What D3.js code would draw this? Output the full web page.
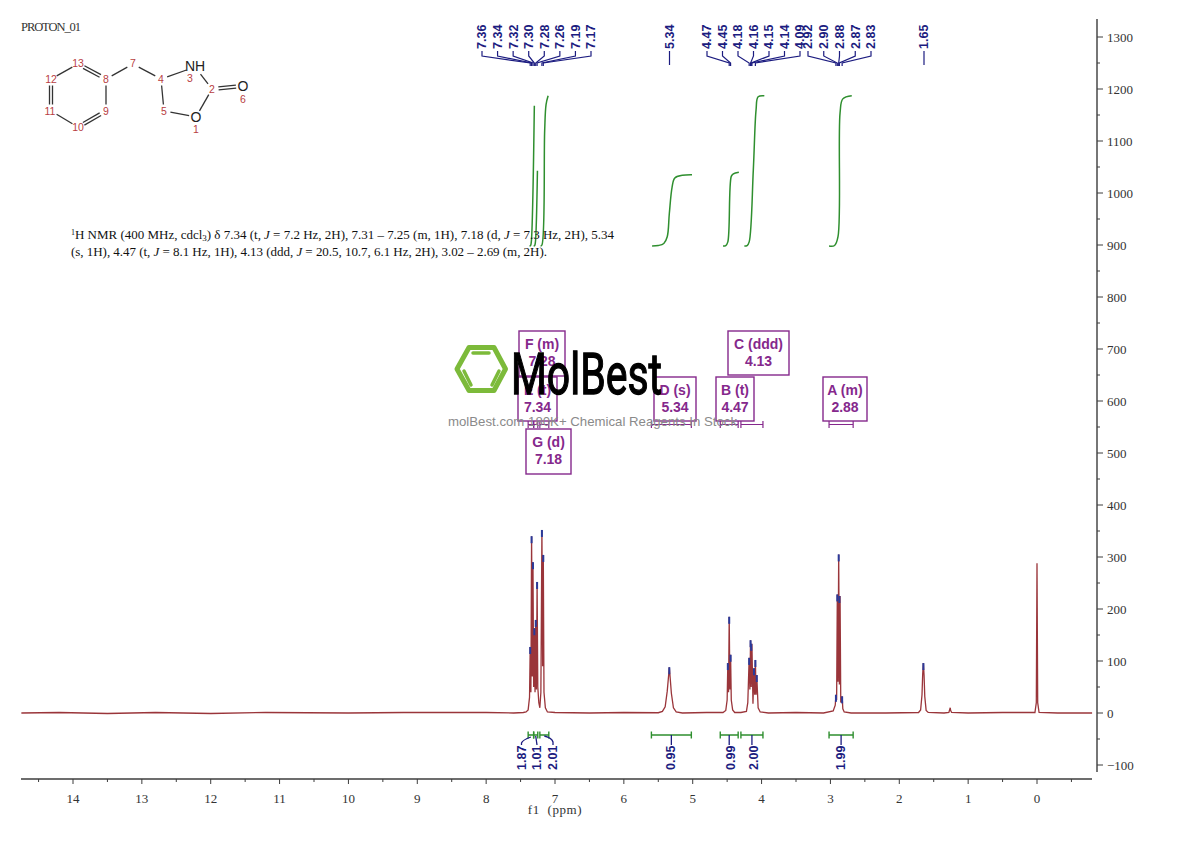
<!DOCTYPE html>
<html><head><meta charset="utf-8"><script src="https://cdn.jsdelivr.net/npm/d3@7"></script>
<style>html,body{margin:0;background:#fff}svg{display:block}</style></head><body><svg id="c" width="1190" height="841"></svg>
<script>
const spectrumPpm=[14.75,14.2,13.5,12.8,12,11.2,10,9.2,8,7.6,7.46,7.42,7.39,7.37,7.36,7.35,7.34,7.33,7.32,7.31,7.30,7.29,7.28,7.27,7.26,7.25,7.235,7.22,7.205,7.19,7.18,7.17,7.16,7.14,7.11,7.0,6.5,6,5.5,5.44,5.40,5.37,5.35,5.34,5.33,5.31,5.28,5.24,5.15,4.8,4.56,4.52,4.50,4.49,4.48,4.47,4.46,4.45,4.44,4.42,4.39,4.3,4.22,4.20,4.18,4.17,4.16,4.15,4.14,4.125,4.11,4.10,4.09,4.08,4.07,4.05,4.02,3.9,3.5,3.1,2.96,2.93,2.92,2.91,2.90,2.89,2.88,2.87,2.86,2.85,2.83,2.82,2.80,2.7,2.2,1.72,1.69,1.67,1.66,1.65,1.64,1.63,1.61,1.58,1.35,1.28,1.26,1.255,1.24,1.0,0.5,0.03,0.01,0,-0.01,-0.03,-0.3,-0.8];
const spectrumIntensity=[0,1,-1,1,-1,1,0,1,1,0,1,2,6,30,127,40,340,70,290,50,163,40,179,45,252,50,20,10,40,352,90,304,40,10,2,1,0,1,0.5,3,12,42,72,88,72,38,10,2,0,1,1,5,25,96,40,185,45,112,25,6,1,1,3,20,106,45,140,50,133,18,86,35,102,35,73,10,2,0,1,0,4,15,35,25,228,60,305,55,225,20,32,8,2,0,0,1,6,35,75,96,72,32,5,1,0,1,10,5,1,0,1,1,20,288,20,1,0,0];
const peakPpm=[7.36,7.34,7.32,7.30,7.28,7.26,7.19,7.17,5.34,4.49,4.47,4.45,4.18,4.16,4.15,4.11,4.09,4.07,2.92,2.90,2.88,2.87,2.83,1.65];
const peakHeight=[127,340,290,163,179,252,352,304,88,96,185,112,106,140,133,86,102,73,35,228,305,225,32,96];
const labelsGroupA=["7.36","7.34","7.32","7.30","7.28","7.26","7.19","7.17"];
const labelsGroupB=["4.47","4.45","4.18","4.16","4.15","4.14","4.09"];
const labelsGroupC=["2.92","2.90","2.88","2.87","2.83"];
const singleLabels=["5.34","1.65"];
const integralRanges=[[7.39,7.31],[7.31,7.25],[7.22,7.09],[5.60,5.02],[4.60,4.34],[4.30,3.98],[3.02,2.67]];
const integralValues=["1.87","1.01","2.01","0.95","0.99","2.00","1.99"];
const curvePpm=[[7.37,7.355,7.345,7.30],[7.31,7.295,7.285,7.255],[7.21,7.19,7.15,7.13,7.10],[5.59,5.50,5.42,5.37,5.34,5.30,5.26,5.15,5.01],[4.56,4.52,4.49,4.44,4.41,4.33],[4.25,4.21,4.18,4.12,4.08,4.05,3.96],[3.02,2.94,2.89,2.86,2.82,2.69]];
const curveValues=[[898,899,905,1168],[898,899,905,1043],[898,900,1120,1170,1187],[898,899,903,916,960,1011,1029,1034,1035],[898,899,906,1032,1037,1040],[898,899,906,1044,1160,1185,1187],[898,899,916,1154,1181,1187]];
const boxLetters=["F (m)","E (t)","G (d)","D (s)","B (t)","C (ddd)","A (m)"];
const boxShifts=["7.28","7.34","7.18","5.34","4.47","4.13","2.88"];
const yTicks=d3.range(-100,1301,100);
const xTicks=d3.range(0,15);

const svg=d3.select("#c"),navy="#1c1c80",green="#2f8f2f",purple="#85288c",axisCol="#3c3c3c",serif='"Liberation Serif",serif',sans='"Liberation Sans",Arial,sans-serif';
const x=d3.scaleLinear().domain([14,0]).range([73,1037]);
const y=d3.scaleLinear().domain([0,1300]).range([713,37]);

// axes
const xAxis=svg.append("g").attr("transform","translate(0,779)");
xAxis.append("path").attr("d","M21,0H1092").attr("stroke",axisCol).attr("stroke-width",1.4);
xAxis.selectAll("line.m").data(d3.range(-0.5,14.6,1)).join("line").attr("x1",d=>x(d)).attr("x2",d=>x(d)).attr("y1",0).attr("y2",3).attr("stroke",axisCol);
xAxis.selectAll("line.j").data(xTicks).join("line").attr("class","j").attr("x1",d=>x(d)).attr("x2",d=>x(d)).attr("y1",0).attr("y2",5).attr("stroke",axisCol);
xAxis.selectAll("text").data(xTicks).join("text").attr("x",d=>x(d)).attr("y",24).attr("text-anchor","middle").attr("font-family",serif).attr("font-size",13).attr("fill","#333").text(d=>d);
svg.append("text").attr("x",555).attr("y",814).attr("text-anchor","middle").attr("font-family",serif).attr("font-size",13).attr("fill","#333").attr("xml:space","preserve").attr("letter-spacing",0.6).text("f1  (ppm)");
const yAxis=svg.append("g").attr("transform","translate(1097,0)");
yAxis.append("path").attr("d","M0,19V772").attr("stroke",axisCol).attr("stroke-width",1.4);
yAxis.selectAll("line.m").data(d3.range(-50,1301,100)).join("line").attr("y1",d=>y(d)).attr("y2",d=>y(d)).attr("x1",0).attr("x2",3).attr("stroke",axisCol);
yAxis.selectAll("line.j").data(yTicks).join("line").attr("class","j").attr("y1",d=>y(d)).attr("y2",d=>y(d)).attr("x1",0).attr("x2",6).attr("stroke",axisCol);
yAxis.selectAll("text").data(yTicks).join("text").attr("x",10).attr("y",d=>y(d)+4.5).attr("font-family",serif).attr("font-size",13).attr("fill","#333").text(d=>d3.format("d")(d));

// spectrum
const line=d3.line().x(d=>x(d[0])).y(d=>y(d[1]));
svg.append("path").datum(spectrumPpm.map((p,i)=>[p,spectrumIntensity[i]])).attr("d",line).attr("fill","none").attr("stroke","#8f1f25").attr("stroke-width",1.3).attr("stroke-opacity",0.9);
svg.selectAll("line.pk").data(peakPpm).join("line").attr("class","pk").attr("x1",d=>x(d)).attr("x2",d=>x(d)).attr("y1",(d,i)=>y(peakHeight[i])).attr("y2",(d,i)=>y(peakHeight[i])+7).attr("stroke","#2a3a9a").attr("stroke-width",2);

// integral curves
const iLine2=d3.line().x(d=>x(d[0])).y(d=>y(d[1])).curve(d3.curveCatmullRom.alpha(0.5));
curvePpm.forEach((c,i)=>svg.append("path").datum(c.map((p,j)=>[p,curveValues[i][j]])).attr("d",iLine2).attr("fill","none").attr("stroke",green).attr("stroke-width",1.5));

// top peak labels with leaders
function peakText(l,t){
  svg.append("text").attr("transform",`translate(${l+4.4},49) rotate(-90)`).attr("font-family",sans).attr("font-weight","bold").attr("font-size",12.5).attr("fill",navy).text(t);
}
function group(labels,lo,hi){
  const lx=d3.scalePoint().domain(d3.range(labels.length)).range([lo,hi]);
  labels.forEach((t,i)=>{
    const p=x(+t),l=lx(i);
    svg.append("path").attr("d",d3.line()([[l,51],[l,56],[p,63],[p,66]])).attr("fill","none").attr("stroke",navy).attr("stroke-width",1.2);
    peakText(l,t);
  });
}
group(labelsGroupA,482,591);
group(labelsGroupB,707,800);
group(labelsGroupC,808,871);
[[singleLabels[0],669.5],[singleLabels[1],924]].forEach(([t,l])=>{
  svg.append("path").attr("d",`M${l},51V65`).attr("stroke",navy).attr("stroke-width",1.2);
  peakText(l,t);
});

// integral brackets + annotation brackets
integralRanges.forEach((r,i)=>{
  const a=x(r[0]),b=x(r[1]),m=(a+b)/2;
  [[735,3.5,green,1.4],[424.5,3.5,purple,1.2]].forEach(([yy,h,c,w])=>{
    svg.append("path").attr("d",`M${a},${yy-h}V${yy+h}M${a},${yy}H${b}M${b},${yy-h}V${yy+h}`).attr("fill","none").attr("stroke",c).attr("stroke-width",w);
  });
  const tx=[521.5,537,553,671,731,753.5,841][i];
  let leader=`M${m},735V745`;
  if(i===0) leader=`M${tx},745V743Q${tx+1},740 ${m},737`;
  if(i===1) leader=`M${tx},745L${m},736`;
  if(i===2) leader=`M${tx},745V742Q${tx-1},738 ${m},736`;
  svg.append("path").attr("d",leader).attr("fill","none").attr("stroke",navy).attr("stroke-width",1.3);
  svg.append("text").attr("transform",`translate(${tx+4.4},770) rotate(-90)`).attr("font-family",sans).attr("font-weight","bold").attr("font-size",12.5).attr("fill",navy).text(integralValues[i]);
});

// annotation boxes
const boxRects=[[519,331,46,45],[518,377,39,44],[526,429,45,45],[654,377,42,44],[716,377,38,44],[728,331,61,44],[823,377,44,44]];
boxRects.forEach((b,i)=>{
  svg.append("rect").attr("x",b[0]).attr("y",b[1]).attr("width",b[2]).attr("height",b[3]).attr("fill","#fff").attr("stroke",purple).attr("stroke-width",1.4);
  [boxLetters[i],boxShifts[i]].forEach((t,j)=>svg.append("text").attr("x",b[0]+b[2]/2).attr("y",b[1]+18+j*17).attr("text-anchor","middle").attr("font-family",sans).attr("font-weight","bold").attr("font-size",14).attr("fill",purple).text(t));
});

// logo
const lg=svg.append("g").attr("stroke","#7cba3a").attr("fill","none").attr("stroke-linecap","round");
lg.append("path").attr("d","M457,369L469,347.5H494L505.5,369L494,390.5H469Z").attr("stroke-width",5).attr("stroke-linejoin","round");
lg.append("path").attr("d","M473,353H489M464,371L471,385M499,371L492,385").attr("stroke-width",3.5);
svg.append("text").attr("x",511).attr("y",394).attr("font-family",'"Liberation Sans Narrow","Roboto",sans-serif').attr("font-size",58).attr("fill","#000").attr("stroke","#000").attr("stroke-width",1.3).attr("textLength",151).attr("lengthAdjust","spacingAndGlyphs").text("MolBest");
svg.append("text").attr("x",448).attr("y",426).attr("font-family",sans).attr("font-size",13).attr("fill","#8a8a8a").attr("textLength",289).attr("lengthAdjust","spacingAndGlyphs").text("molBest.com 180K+ Chemical Reagents In Stock");

// title + assignment text
svg.append("text").attr("x",21).attr("y",31).attr("font-family",serif).attr("font-size",12.5).attr("fill","#333").attr("textLength",60).attr("lengthAdjust","spacing").text("PROTON_01");
const t1=svg.append("text").attr("x",71).attr("y",239).attr("font-family",serif).attr("font-size",13).attr("fill","#111").attr("textLength",543).attr("lengthAdjust","spacing");
t1.append("tspan").attr("font-size",8).attr("dy",-4).text("1");
t1.append("tspan").attr("dy",4).text("H NMR (400 MHz, cdcl");
t1.append("tspan").attr("font-size",9).attr("dy",2).text("3");
t1.append("tspan").attr("dy",-2).text(") δ 7.34 (t, ");
t1.append("tspan").attr("font-style","italic").text("J");
t1.append("tspan").text(" = 7.2 Hz, 2H), 7.31 – 7.25 (m, 1H), 7.18 (d, ");
t1.append("tspan").attr("font-style","italic").text("J");
t1.append("tspan").text(" = 7.3 Hz, 2H), 5.34");
const t2=svg.append("text").attr("x",71).attr("y",256).attr("font-family",serif).attr("font-size",13).attr("fill","#111").attr("textLength",476).attr("lengthAdjust","spacing");
t2.append("tspan").text("(s, 1H), 4.47 (t, ");
t2.append("tspan").attr("font-style","italic").text("J");
t2.append("tspan").text(" = 8.1 Hz, 1H), 4.13 (ddd, ");
t2.append("tspan").attr("font-style","italic").text("J");
t2.append("tspan").text(" = 20.5, 10.7, 6.1 Hz, 2H), 3.02 – 2.69 (m, 2H).");

// molecule
const atoms={8:[106,79],13:[78,64],12:[51,79],11:[51,111],10:[78,127],9:[106,111],7:[133,64],4:[161,79],3:[195,67],2:[212,89],1:[196,117],5:[164,111],6:[243,86]};
const bonds=[[8,13,2],[13,12,1],[12,11,2],[11,10,1],[10,9,2],[9,8,1],[8,7,1],[7,4,1],[4,3,1],[3,2,1],[2,1,1],[1,5,1],[5,4,1],[2,6,2]];
const trim={3:9,1:7,6:7};
bonds.forEach(([a,b,o])=>{
  const [x1,y1]=atoms[a],[x2,y2]=atoms[b];
  const len=Math.hypot(x2-x1,y2-y1),ux=(x2-x1)/len,uy=(y2-y1)/len;
  const ta=trim[a]||6.5,tb=trim[b]||6.5;
  const p=[x1+ux*ta,y1+uy*ta,x2-ux*tb,y2-uy*tb];
  const draw=(dx,dy)=>svg.append("line").attr("x1",p[0]+dx).attr("y1",p[1]+dy).attr("x2",p[2]+dx).attr("y2",p[3]+dy).attr("stroke","#333").attr("stroke-width",1.3);
  if(o===1) draw(0,0); else {draw(-uy*1.5,ux*1.5);draw(uy*1.5,-ux*1.5);}
});
[["NH",195,71,14],["O",196,122,14],["O",243,91,14]].forEach(([t,a,b,s])=>svg.append("text").attr("x",a).attr("y",b).attr("text-anchor","middle").attr("font-family",sans).attr("font-size",s).attr("fill","#222").text(t));
[[13,78,67],[12,51,83],[11,50,115],[10,78,131],[9,106,115],[8,106,83],[7,133,67],[4,161,83],[3,190,82],[2,212,93],[5,164,115],[1,196,133],[6,243,103]].forEach(([t,a,b])=>svg.append("text").attr("x",a).attr("y",b).attr("text-anchor","middle").attr("font-family",sans).attr("font-size",10.5).attr("fill","#b8403f").text(t));
</script></body></html>
